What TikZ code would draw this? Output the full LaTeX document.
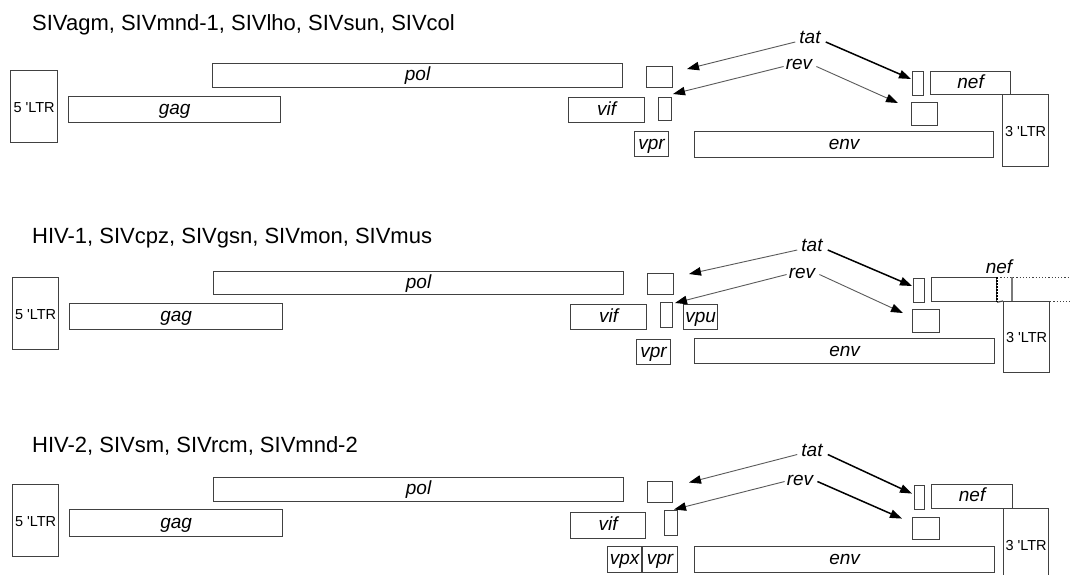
\documentclass[tikz,border=0pt]{standalone}
\usepackage{fontspec}
\setmainfont{Liberation Sans}
\usetikzlibrary{arrows.meta}
\definecolor{boxc}{RGB}{65,65,65}
\definecolor{thinc}{RGB}{90,90,90}
\begin{document}
\begin{tikzpicture}[x=1pt,y=-1pt,
  gene/.style={draw=boxc, line width=1.2pt, fill=white, inner sep=0pt, anchor=north west,
    text height=14pt, text depth=4pt,
    font=\fontsize{19}{22}\selectfont\itshape},
  ltr/.style={gene, text height=11pt, text depth=0pt, font=\fontsize{14.5}{16}\selectfont},
  lab/.style={inner sep=0pt, anchor=base, font=\fontsize{19}{22}\selectfont\itshape},
  ttl/.style={inner sep=0pt, anchor=base west, font=\fontsize{22}{26}\selectfont},
  thinarr/.style={draw=thinc, line width=0.9pt, -{Triangle[length=12pt,width=8.5pt,color=black]}},
  thickarr/.style={draw=black, line width=1.5pt, -{Triangle[length=12pt,width=8.5pt,color=black]}},
  dotl/.style={draw=boxc, line width=0.9pt, dash pattern=on 1.2pt off 2pt}
]
\clip (0,0) rectangle (1070,575);
\fill[white] (0,0) rectangle (1070,575);

% ---------------- Panel 1 ----------------
\node[ttl] (t1) at (32,30.5) {SIVagm, SIVmnd-1, SIVlho, SIVsun, SIVcol};
\node[ltr, minimum width=47pt, minimum height=72pt] (ltr5a) at (10,70) {5 \textquotesingle LTR};
\node[gene, minimum width=410pt, minimum height=24pt] (pola) at (212,63) {pol};
\node[gene, minimum width=212pt, minimum height=26pt] (gaga) at (68,96) {gag};
\node[gene, minimum width=76pt, minimum height=25pt] (vifa) at (568,97) {vif};
\node[gene, minimum width=26pt, minimum height=21pt] (tsqa) at (646,66) {};
\node[gene, minimum width=13pt, minimum height=23pt] (rsma) at (658,97) {};
\node[gene, minimum width=34pt, minimum height=25pt] (vpra) at (634,131) {vpr};
\node[gene, minimum width=299pt, minimum height=26pt] (enva) at (694,131) {env};
\node[gene, minimum width=11pt, minimum height=24pt] (t2a) at (912,71) {};
\node[gene, minimum width=80pt, minimum height=23pt] (nefa) at (930,71) {nef};
\node[gene, minimum width=26pt, minimum height=23pt] (r2a) at (911,102) {};
\node[ltr, minimum width=46pt, minimum height=72pt] (ltr3a) at (1002,94) {3 \textquotesingle LTR};
\node[lab] (tatA) at (810,43.5) {tat};
\node[lab] (revA) at (799,70) {rev};
\coordinate (tl1) at (687,69);
\coordinate (tr1) at (911,79);
\coordinate (rl1) at (673,94);
\coordinate (rr1) at (898,103);
\draw[thinarr] ([xshift=-4pt,yshift=1.5pt]tatA.base west) -- (tl1);
\draw[thickarr] ([xshift=5pt,yshift=1.5pt]tatA.base east) -- (tr1);
\draw[thinarr] ([xshift=-2pt,yshift=3.5pt]revA.base west) -- (rl1);
\draw[thinarr] ([xshift=4pt,yshift=3.5pt]revA.base east) -- (rr1);

% ---------------- Panel 2 ----------------
\node[ttl] (t2) at (32,243) {HIV-1, SIVcpz, SIVgsn, SIVmon, SIVmus};
\node[ltr, minimum width=46pt, minimum height=72pt] (ltr5b) at (12,277) {5 \textquotesingle LTR};
\node[gene, minimum width=410pt, minimum height=23pt] (polb) at (213,271) {pol};
\node[gene, minimum width=213pt, minimum height=26pt] (gagb) at (69,303) {gag};
\node[gene, minimum width=76pt, minimum height=25pt] (vifb) at (570,304) {vif};
\node[gene, minimum width=26pt, minimum height=21pt] (tsqb) at (647,273) {};
\node[gene, minimum width=12pt, minimum height=25pt] (rsmb) at (660,302) {};
\node[gene, minimum width=34pt, minimum height=25pt] (vpub) at (683,304) {vpu};
\node[gene, minimum width=34pt, minimum height=25pt] (vprb) at (636,339) {vpr};
\node[gene, minimum width=300pt, minimum height=25pt] (envb) at (694,338) {env};
\node[gene, minimum width=11pt, minimum height=24pt] (t2b) at (913,278) {};
\node[gene, minimum width=65pt, minimum height=24pt] (nefb) at (931,277) {};
\node[gene, minimum width=27pt, minimum height=23pt] (r2b) at (912,309) {};
\node[ltr, minimum width=46pt, minimum height=71pt] (ltr3b) at (1003,301) {3 \textquotesingle LTR};
\coordinate (nefx1) at (1012,277);
\coordinate (nefx2) at (1012,301);
\coordinate (edge1) at (1070,277);
\coordinate (edge2) at (1070,301);
\draw[draw=boxc!70, line width=1.2pt] (nefx1) -- (nefx2);
\draw[draw=boxc, line width=1.2pt] (nefb.south east) -- (ltr3b.north west);
\draw[dotl] (nefb.north east) -- (edge1);
\draw[dotl] (ltr3b.north east) -- (edge2);
\draw[draw=black, line width=1.8pt, dash pattern=on 1.5pt off 1.5pt] (nefb.north east) -- (nefb.south east);
\node[lab] (nefL) at (999,273) {nef};
\node[lab] (tatB) at (812,251.5) {tat};
\node[lab] (revB) at (802,278) {rev};
\coordinate (tl2) at (689,274);
\coordinate (tr2) at (912,286);
\coordinate (rl2) at (675,303);
\coordinate (rr2) at (903,313);
\draw[thinarr] ([xshift=-4pt,yshift=1.5pt]tatB.base west) -- (tl2);
\draw[thickarr] ([xshift=5pt,yshift=1.5pt]tatB.base east) -- (tr2);
\draw[thinarr] ([xshift=-2pt,yshift=3.5pt]revB.base west) -- (rl2);
\draw[thinarr] ([xshift=4pt,yshift=3.5pt]revB.base east) -- (rr2);

% ---------------- Panel 3 ----------------
\node[ttl] (t3) at (32,452) {HIV-2, SIVsm, SIVrcm, SIVmnd-2};
\node[ltr, minimum width=46pt, minimum height=72pt] (ltr5c) at (12,484) {5 \textquotesingle LTR};
\node[gene, minimum width=410pt, minimum height=24pt] (polc) at (213,477) {pol};
\node[gene, minimum width=213pt, minimum height=27pt] (gagc) at (69,509) {gag};
\node[gene, minimum width=75pt, minimum height=26pt] (vifc) at (570,512) {vif};
\node[gene, minimum width=25pt, minimum height=21pt] (tsqc) at (647,481) {};
\node[gene, minimum width=13pt, minimum height=25pt] (rsmc) at (664,510) {};
\node[gene, minimum width=34pt, minimum height=26pt] (vpxc) at (607,546) {vpx};
\node[gene, minimum width=35pt, minimum height=26pt] (vprc) at (642,546) {vpr};
\node[gene, minimum width=300pt, minimum height=26pt] (envc) at (694,546) {env};
\node[gene, minimum width=10pt, minimum height=24pt] (t2c) at (914,485) {};
\node[gene, minimum width=81pt, minimum height=24pt] (nefc) at (931,484) {nef};
\node[gene, minimum width=27pt, minimum height=22pt] (r2c) at (912,517) {};
\node[ltr, minimum width=45pt, minimum height=72pt] (ltr3c) at (1003,508) {3 \textquotesingle LTR};
\node[lab] (tatC) at (812,456) {tat};
\node[lab] (revC) at (800,485) {rev};
\coordinate (tl3) at (689,482.5);
\coordinate (tr3) at (912,493.6);
\coordinate (rl3) at (674,509.5);
\coordinate (rr3) at (902,518.6);
\draw[thinarr] ([xshift=-4pt,yshift=1.5pt]tatC.base west) -- (tl3);
\draw[thickarr] ([xshift=5pt,yshift=1.5pt]tatC.base east) -- (tr3);
\draw[thinarr] ([xshift=-2pt,yshift=3.5pt]revC.base west) -- (rl3);
\draw[thickarr] ([xshift=4pt,yshift=3.5pt]revC.base east) -- (rr3);
\end{tikzpicture}
\end{document}
